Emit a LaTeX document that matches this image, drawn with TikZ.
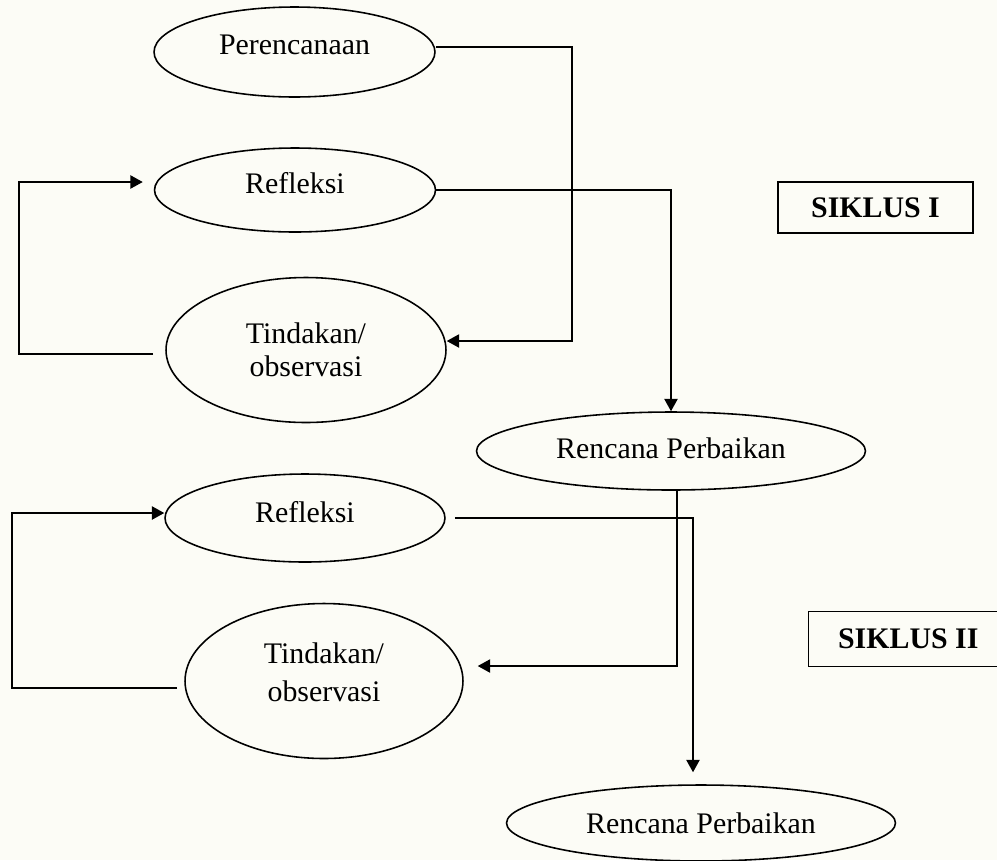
\documentclass[tikz,border=0pt]{standalone}
\usepackage{fontspec}
\setmainfont{Liberation Serif}
\usetikzlibrary{arrows.meta,calc,shapes.geometric}
\definecolor{paper}{RGB}{252,252,246}
\begin{document}
\begin{tikzpicture}[x=0.02cm,y=-0.02cm,
  font=\fontsize{17}{22}\selectfont,
  oval/.style={ellipse,draw,line width=0.9pt,inner sep=0pt,align=center},
  lbl/.style={font=\fontsize{17}{22}\selectfont\bfseries,inner sep=0pt},
  conn/.style={line width=0.9pt},
  arr/.style={conn,-{Triangle[length=7pt,width=7.5pt]}}]
\fill[paper] (0,0) rectangle (997,860);
\useasboundingbox (0,0) rectangle (997,860);

\node[oval,minimum width=5.62cm,minimum height=1.8cm,text depth=8pt] (per) at (294.5,52) {Perencanaan};
\node[oval,minimum width=5.62cm,minimum height=1.68cm,text depth=8pt] (ref1) at (295,190) {Refleksi};
\node[oval,minimum width=5.6cm,minimum height=2.9cm,font=\fontsize{17}{19}\selectfont] (tin1) at (306,350) {Tindakan/\\observasi};
\node[oval,minimum width=7.78cm,minimum height=1.56cm,text depth=3.4pt] (ren1) at (671,451) {Rencana Perbaikan};
\node[oval,minimum width=5.6cm,minimum height=1.76cm,text depth=6.8pt] (ref2) at (305,518) {Refleksi};
\node[oval,minimum width=5.56cm,minimum height=3.1cm,text depth=10pt] (tin2) at (324,681) {Tindakan/\\observasi};
\node[oval,minimum width=7.78cm,minimum height=1.52cm] (ren2) at (701,823) {Rencana Perbaikan};

\node[lbl,draw,line width=0.9pt,minimum width=3.9cm,minimum height=1.02cm] (sik1) at (875.5,207.5) {SIKLUS I};
\node[lbl,minimum width=3.76cm,minimum height=1.08cm] (sik2) at (903,639) {\hspace*{6pt}SIKLUS II};
\draw[conn] (sik2.north east) -- (sik2.north west) -- (sik2.south west) -- (sik2.south east);

% cycle I
\coordinate (p1) at (572,341);
\draw[arr] ([yshift=2.8pt]per.east) -| (p1) -- (tin1.east |- p1);
\draw[arr] (ref1.east) -| (ren1.north);
\coordinate (a1s) at ($(tin1.west)+(-12,4)$);
\coordinate (a1t) at ($(ref1.west)+(-11,-8)$);
\coordinate (l1) at (19,182);
\draw[arr] (a1s) -| (l1) -- (a1t);

% cycle II
\coordinate (a2t) at ($(tin2.east)+(14,-15)$);
\draw[arr] ([xshift=3.4pt]ren1.south) |- (a2t);
\coordinate (b2s) at ($(ref2.east)+(9,0)$);
\coordinate (b2t) at ($(ren2.north)+(-8,-12)$);
\draw[arr] (b2s) -| (b2t);
\coordinate (c2s) at ($(tin2.west)+(-7,7)$);
\coordinate (c2t) at ($(ref2.west)+(0,-5)$);
\coordinate (l2) at (12,513);
\draw[arr] (c2s) -| (l2) -- (c2t);
\end{tikzpicture}
\end{document}
